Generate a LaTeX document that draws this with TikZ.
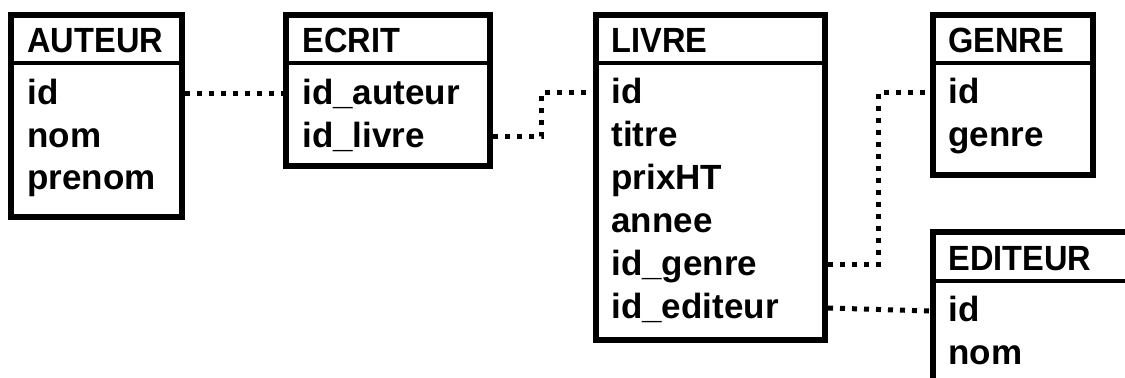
\documentclass[tikz,border=0pt]{standalone}
\usepackage{fontspec}
\setmainfont{Liberation Sans}
\newfontfamily\titlefont[FakeStretch=0.93]{Liberation Sans}
\usetikzlibrary{fit}

\begin{document}
\begin{tikzpicture}[x=0.5pt,y=-0.5pt,
	table/.style={draw,line width=3pt,inner sep=0pt},
	header/.style={line width=2pt},
	title/.style={anchor=base west,inner sep=0pt,font=\titlefont\bfseries\fontsize{17.5}{21}\selectfont},
	field/.style={anchor=base west,inner sep=0pt,text height=13pt,text depth=2pt,font=\bfseries\fontsize{17.5}{21}\selectfont},
	link/.style={line width=2.5pt,dash pattern=on 2.5pt off 3.5pt}]
	
	\clip (0,0) rectangle (1125,378);
	
	% tables
	\node[table,fit={(11,15) (182,217)}] (Auteur) {};
	\node[table,fit={(286,15) (490,166)}] (Ecrit) {};
	\node[table,fit={(596,15) (825,340)}] (Livre) {};
	\node[table,fit={(933,15) (1093,175)}] (Genre) {};
	\node[table,fit={(933,232) (1160,430)}] (Editeur) {};
	
	\draw[header] (Auteur.west |- 0,63) -- (Auteur.east |- 0,63);
	\draw[header] (Ecrit.west |- 0,63) -- (Ecrit.east |- 0,63);
	\draw[header] (Livre.west |- 0,63) -- (Livre.east |- 0,63);
	\draw[header] (Genre.west |- 0,63) -- (Genre.east |- 0,63);
	\draw[header] (Editeur.west |- 0,281) -- (Editeur.east |- 0,281);
	
	\node[title] at (27,53) {AUTEUR};
	\node[field] (AuteurId) at (27,105) {id};
	\node[field] (AuteurNom) at (27,148) {nom};
	\node[field] (AuteurPrenom) at (27,190) {prenom};
	
	\node[title] at (302,53) {ECRIT};
	\node[field] (EcritIdAuteur) at (302,105) {id\_auteur};
	\node[field] (EcritIdLivre) at (302,148) {id\_livre};
	
	\node[title] at (611,53) {LIVRE};
	\node[field] (LivreId) at (611,104) {id};
	\node[field] (LivreTitre) at (611,147) {titre};
	\node[field] (LivrePrix) at (611,190) {prixHT};
	\node[field] (LivreAnnee) at (611,233) {annee};
	\node[field] (LivreIdGenre) at (611,276) {id\_genre};
	\node[field] (LivreIdEditeur) at (611,319) {id\_editeur};
	
	\node[title] at (948,53) {GENRE};
	\node[field] (GenreId) at (948,104) {id};
	\node[field] (GenreGenre) at (948,147) {genre};
	
	\node[title] at (948,271) {EDITEUR};
	\node[field] (EditeurId) at (948,322) {id};
	\node[field] (EditeurNom) at (948,365) {nom};
	
	% links
	\coordinate (BendLivre) at (541,0);
	\coordinate (BendGenre) at (878,0);
	
	\draw[link] (AuteurId.west -| Auteur.east) -- (EcritIdAuteur.west -| Ecrit.west);
	\draw[link] (EcritIdLivre.west -| Ecrit.east) -| (BendLivre |- LivreId.west) -- (LivreId.west -| Livre.west);
	\draw[link] (LivreIdGenre.west -| Livre.east) -| (BendGenre |- GenreId.west) -- (GenreId.west -| Genre.west);
	\draw[link] (LivreIdEditeur.west -| Livre.east) -- (EditeurId.west -| Editeur.west);
	
\end{tikzpicture}
\end{document}
